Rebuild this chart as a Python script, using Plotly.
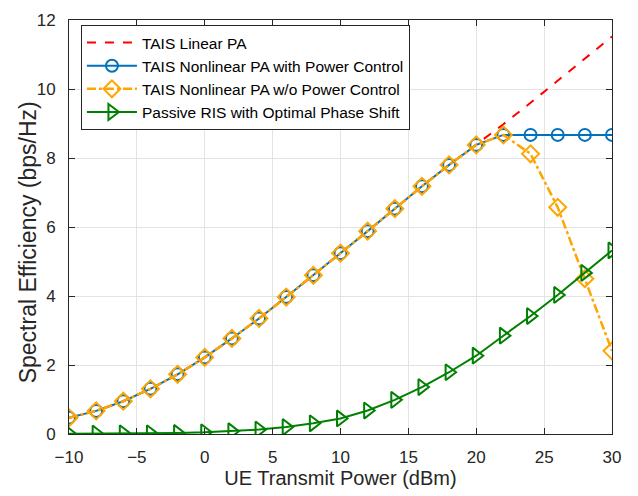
import plotly.graph_objects as go

power_dbm = [-10, -8, -6, -4, -2, 0, 2, 4, 6, 8, 10, 12, 14, 16, 18, 20, 22, 24, 26, 28, 30]

se_linear = [0.47, 0.67, 0.95, 1.31, 1.73, 2.22, 2.77, 3.35, 3.97, 4.60, 5.24, 5.88,
             6.53, 7.18, 7.80, 8.38, 8.98, 9.60, 10.24, 10.88, 11.52]
se_nonlinear_pc = [0.47, 0.67, 0.95, 1.31, 1.73, 2.22, 2.77, 3.35, 3.97, 4.60, 5.24, 5.88,
                   6.53, 7.18, 7.80, 8.38, 8.67, 8.67, 8.67, 8.67, 8.67]
se_nonlinear_nopc = [0.47, 0.67, 0.95, 1.31, 1.73, 2.22, 2.77, 3.35, 3.97, 4.60, 5.24, 5.88,
                     6.53, 7.18, 7.80, 8.38, 8.67, 8.12, 6.57, 4.50, 2.41]
se_passive = [0.01, 0.01, 0.02, 0.02, 0.03, 0.05, 0.08, 0.13, 0.20, 0.31, 0.45, 0.68,
              0.99, 1.36, 1.79, 2.27, 2.85, 3.42, 4.03, 4.67, 5.32]

names = [
    "TAIS Linear PA",
    "TAIS Nonlinear PA with Power Control",
    "TAIS Nonlinear PA w/o Power Control",
    "Passive RIS with Optimal Phase Shift",
]
x_label = "UE Transmit Power (dBm)"
y_label = "Spectral Efficiency (bps/Hz)"

FONT = "Liberation Sans, Arial, sans-serif"
INK = "#262626"

fig = go.Figure()
fig.add_trace(go.Scatter(
    x=power_dbm, y=se_linear, name=names[0], mode="lines",
    line=dict(color="#FF0000", width=2, dash="dash"),
))
fig.add_trace(go.Scatter(
    x=power_dbm, y=se_nonlinear_pc, name=names[1], mode="lines+markers",
    line=dict(color="#0072BD", width=2),
    marker=dict(symbol="circle-open", size=12, color="#0072BD", line=dict(width=2)),
))
fig.add_trace(go.Scatter(
    x=power_dbm, y=se_nonlinear_nopc, name=names[2], mode="lines+markers",
    line=dict(color="#FFA500", width=2.5, dash="dashdot"),
    marker=dict(symbol="diamond-open", size=13, color="#FFA500", line=dict(width=2)),
))
fig.add_trace(go.Scatter(
    x=power_dbm, y=se_passive, name=names[3], mode="lines+markers",
    line=dict(color="#008000", width=2),
    marker=dict(symbol="triangle-right-open", size=14, color="#008000", line=dict(width=2)),
))

axis_common = dict(
    showline=True, linecolor=INK, linewidth=1, mirror="ticks",
    ticks="inside", ticklen=6, tickcolor=INK,
    showgrid=True, gridcolor="#E3E3E3", gridwidth=1,
    zeroline=False,
    tickfont=dict(family=FONT, size=17, color=INK),
)

fig.update_xaxes(
    range=[-10, 30], tickvals=[-10, -5, 0, 5, 10, 15, 20, 25, 30],
    ticklabelstandoff=8,
    title=dict(text=x_label, standoff=4,
               font=dict(family=FONT, size=20, color=INK)),
    **axis_common,
)
fig.update_yaxes(
    range=[0, 12], tickvals=[0, 2, 4, 6, 8, 10, 12],
    ticklabelstandoff=9,
    **axis_common,
)

# y-axis label placed as a rotated annotation left of the tick labels
fig.add_annotation(
    text=y_label, textangle=-90, showarrow=False,
    xref="paper", yref="paper", x=-0.0755, y=0.463,
    xanchor="center", yanchor="middle",
    font=dict(family=FONT, size=23, color=INK),
)

fig.update_layout(
    width=638, height=496,
    margin=dict(l=69, r=26, t=11, b=62),
    paper_bgcolor="white", plot_bgcolor="white",
    legend=dict(
        x=0.022, y=0.988, xanchor="left", yanchor="top",
        bgcolor="white", bordercolor=INK, borderwidth=1,
        font=dict(family=FONT, size=15.5, color="#000000"),
        tracegroupgap=0, itemwidth=50,
    ),
    showlegend=True,
)

fig.write_html("out.html")
